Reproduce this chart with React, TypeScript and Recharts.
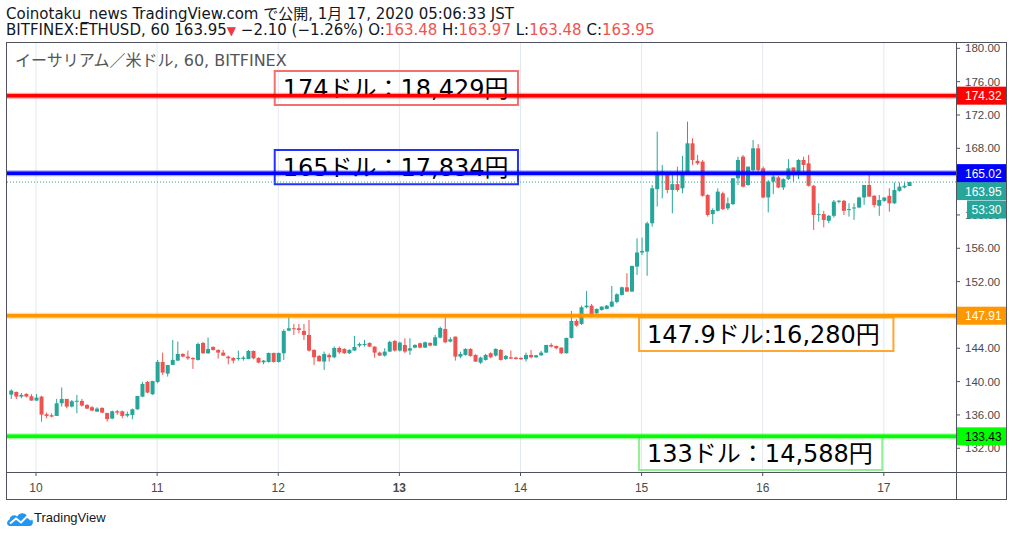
import {
  Bar,
  CartesianGrid,
  ComposedChart,
  ReferenceArea,
  ReferenceLine,
  XAxis,
  YAxis,
} from "recharts";

// BITFINEX:ETHUSD, 60 — hourly candles, hour 0 = 2020-01-10 00:00 (JST)
const FIRST_HOUR = -5;

// one line per day: Jan 9 (19:00–23:00), Jan 10 … Jan 16, Jan 17 (00:00–05:00)
const OPEN = [
  138.44, 138.76, 138.2, 138.52, 138.24,
  137.72, 138.2, 136.08, 135.96, 135.88, 137.4, 137.92, 137.0, 137.6, 137.68, 137.2, 136.92, 136.4, 136.84, 136.24, 135.56, 136.44, 136.44, 135.92, 136.0, 136.68, 138.2, 139.96, 138.48,
  139.96, 142.36, 140.96, 142.0, 142.52, 143.32, 143.0, 142.84, 142.6, 144.64, 143.4, 144.16, 143.8, 143.48, 143.0, 142.84, 142.72, 142.72, 142.72, 143.68, 142.84, 142.32, 142.36, 143.44,
  142.36, 143.4, 146.12, 146.4, 146.4, 146.08, 145.6, 143.8, 143.08, 142.4, 143.2, 142.92, 144.04, 143.92, 143.4, 143.72, 144.32, 144.44, 144.64, 144.2, 143.48, 143.12, 143.6, 144.88,
  143.72, 144.4, 143.72, 144.08, 144.6, 144.08, 144.64, 144.32, 145.28, 146.32, 144.8, 145.4, 143.0, 143.2, 143.92, 143.2, 142.28, 142.6, 143.4, 143.12, 143.8, 142.72, 142.92, 142.88,
  142.84, 142.68, 143.2, 142.92, 143.16, 143.48, 144.4, 144.28, 144.08, 143.4, 145.24, 147.28, 146.92, 148.92, 149.12, 148.2, 148.6, 148.72, 149.0, 149.56, 150.4, 151.32, 150.8, 153.8,
  155.5, 155.6, 159.0, 163.1, 165.0, 165.0, 163.0, 163.7, 163.2, 165.0, 168.6, 166.5, 166.4, 162.4, 160.1, 160.5, 162.6, 160.8, 161.3, 164.4, 167.0, 163.6, 165.4, 168.0,
  165.6, 162.1, 164.0, 164.5, 163.3, 164.3, 165.7, 165.2, 166.6, 166.2, 163.5, 160.1, 160.1, 159.3, 159.9, 161.6, 161.7, 160.6, 160.8, 160.9, 162.1, 163.6, 162.3, 161.1,
  161.7, 162.3, 161.4, 162.9, 163.3, 163.48,
];
const HIGH = [
  139.08, 138.8, 138.64, 138.6, 138.5,
  138.5, 138.3, 136.3, 136.2, 137.92, 139.3, 137.92, 137.8, 138.4, 137.92, 137.3, 137.08, 136.92, 136.92, 136.24, 136.52, 136.6, 136.52, 136.4, 136.76, 138.28, 139.96, 140.08, 140.08,
  142.6, 143.48, 142.0, 145.0, 144.8, 143.4, 143.72, 142.92, 144.68, 144.76, 145.28, 144.24, 143.88, 143.8, 143.12, 142.92, 143.72, 143.08, 143.8, 143.72, 142.92, 142.6, 143.48, 143.48,
  143.48, 146.28, 147.72, 146.92, 146.92, 146.92, 147.4, 143.88, 143.2, 143.6, 143.4, 144.2, 144.2, 144.0, 143.88, 145.48, 144.68, 145.0, 144.72, 144.24, 143.6, 144.0, 144.88, 145.0,
  144.8, 145.2, 145.2, 144.48, 144.68, 144.8, 144.72, 145.6, 146.6, 147.72, 145.32, 145.4, 143.6, 144.0, 144.0, 143.28, 143.0, 143.32, 143.52, 144.0, 143.92, 143.2, 143.72, 143.0,
  142.92, 143.48, 143.8, 143.2, 143.68, 144.4, 144.6, 144.32, 144.12, 145.28, 148.48, 147.48, 149.1, 150.88, 149.32, 148.8, 149.04, 149.2, 151.48, 150.6, 151.4, 153.0, 153.92, 157.2,
  157.28, 159.2, 163.6, 170.0, 166.0, 165.2, 164.8, 165.8, 167.1, 171.2, 169.2, 167.2, 166.6, 162.5, 160.8, 163.2, 162.8, 162.1, 164.4, 167.0, 167.2, 165.8, 169.0, 168.5,
  165.8, 164.2, 164.8, 164.7, 164.4, 166.7, 165.7, 166.7, 167.0, 167.2, 163.6, 161.4, 160.5, 160.0, 161.8, 161.8, 161.8, 161.4, 161.4, 162.2, 163.6, 164.9, 162.4, 162.4,
  162.1, 163.2, 163.9, 163.9, 163.9, 163.97,
];
const LOW = [
  137.92, 137.9, 138.0, 138.1, 137.72,
  137.7, 135.2, 135.6, 135.7, 135.88, 137.0, 136.8, 136.9, 136.2, 137.0, 136.7, 136.44, 136.36, 136.2, 135.2, 135.48, 136.0, 135.6, 135.72, 135.48, 136.6, 138.12, 138.6, 138.4,
  139.8, 140.8, 140.6, 142.0, 142.48, 142.92, 142.6, 141.52, 142.52, 143.32, 143.32, 143.72, 142.76, 143.08, 142.08, 142.2, 142.52, 142.52, 142.68, 142.68, 142.2, 142.08, 142.28, 142.28,
  142.28, 142.6, 146.08, 145.6, 145.8, 145.0, 143.6, 142.0, 142.4, 141.4, 142.4, 142.8, 143.32, 143.32, 143.32, 143.72, 144.12, 144.2, 144.16, 142.88, 143.08, 143.0, 143.56, 143.6,
  143.6, 143.4, 143.2, 144.0, 144.0, 144.04, 144.24, 144.28, 145.2, 144.6, 144.72, 142.52, 142.8, 143.12, 143.0, 142.36, 142.12, 142.52, 142.8, 143.0, 142.52, 142.6, 142.7, 142.64,
  142.6, 142.4, 142.8, 142.84, 143.08, 143.44, 144.1, 143.88, 143.32, 143.36, 145.16, 146.6, 146.8, 148.8, 147.88, 147.8, 148.52, 148.68, 148.92, 149.4, 150.32, 150.8, 150.8, 152.8,
  155.2, 152.7, 158.6, 161.0, 162.0, 162.6, 160.2, 162.8, 162.6, 164.8, 166.0, 166.0, 162.2, 159.8, 158.9, 160.4, 160.6, 160.6, 161.2, 163.6, 163.3, 163.5, 165.2, 165.2,
  162.0, 160.3, 162.5, 163.2, 163.0, 164.2, 164.0, 164.3, 164.8, 163.4, 158.2, 159.2, 158.5, 159.0, 159.7, 161.4, 160.0, 159.8, 159.4, 160.8, 161.2, 162.2, 160.9, 159.9,
  161.6, 160.4, 161.3, 162.8, 163.2, 163.48,
];
const CLOSE = [
  138.92, 138.2, 138.4, 138.2, 137.72,
  138.08, 136.04, 135.88, 135.8, 137.4, 137.92, 137.0, 137.64, 137.7, 137.12, 136.76, 136.52, 136.76, 136.28, 135.5, 136.44, 136.28, 135.88, 136.12, 136.68, 138.28, 139.72, 138.68, 140.08,
  142.36, 141.08, 142.0, 142.6, 143.32, 143.0, 142.8, 142.68, 144.52, 143.4, 143.92, 143.8, 143.48, 143.12, 142.8, 142.52, 142.84, 142.88, 143.68, 142.8, 142.28, 142.52, 143.44, 142.36,
  143.44, 146.08, 146.4, 146.28, 146.2, 145.6, 143.72, 142.92, 142.44, 143.32, 142.92, 144.04, 143.52, 143.4, 143.8, 144.16, 144.52, 144.52, 144.2, 143.48, 143.12, 143.6, 144.76, 143.72,
  144.68, 143.6, 144.0, 144.4, 144.08, 144.72, 144.32, 145.32, 146.44, 144.72, 145.08, 143.0, 143.32, 143.92, 143.08, 142.4, 142.88, 143.2, 142.92, 143.92, 142.6, 143.08, 142.76, 142.72,
  142.68, 143.2, 142.92, 143.16, 143.48, 144.4, 144.2, 144.0, 143.4, 145.24, 147.28, 146.72, 148.92, 149.12, 148.0, 148.72, 149.0, 149.12, 149.6, 150.48, 151.32, 150.8, 153.88, 155.5,
  155.68, 159.0, 163.2, 165.0, 165.2, 163.0, 163.7, 163.0, 165.0, 168.6, 166.6, 166.2, 162.3, 160.0, 160.6, 162.8, 160.7, 161.4, 164.4, 166.6, 163.4, 165.8, 168.0, 165.4,
  162.1, 164.0, 164.6, 163.3, 164.3, 165.6, 165.2, 166.6, 166.0, 163.5, 160.0, 160.1, 159.4, 159.9, 161.6, 161.7, 160.5, 160.7, 160.9, 162.1, 163.6, 162.2, 161.2, 161.8,
  162.1, 161.4, 163.0, 163.4, 163.5, 163.95,
];

const DAY_TICKS = [0, 24, 48, 72, 96, 120, 144, 168];
const DAY_LABELS = ["10", "11", "12", "13", "14", "15", "16", "17"];
const WEEK_START = 72; // 13 (Monday) is drawn bold
const PRICE_TICKS = [132, 136, 140, 144, 148, 152, 156, 160, 164, 168, 172, 176, 180];

// horizontal levels drawn by the author
const LEVELS = [174.32, 165.02, 147.91, 133.43];
const LAST_PRICE = 163.95;
const COUNTDOWN = "53:30";

// text notes
const NOTES = ["174ドル：18,429円", "165ドル：17,834円", "147.9ドル:16,280円", "133ドル：14,588円"];

// layout / style (not data)
const LEVEL_COLORS = ["#ff0000", "#0000ff", "#ff9800", "#00ff00"];
const LEVEL_TEXT = ["#ffffff", "#ffffff", "#ffffff", "#000000"];
const NOTE_X = [[47.3, 95.5], [47.3, 95.5], [119.5, 169.9], [119.5, 167.7]];
const NOTE_Y = [[173.2, 177.28], [163.7, 167.8], [143.67, 147.72], [129.4, 133.47]];
const NOTE_STROKE = ["#f4706f", "#2430ff", "#ffa733", "#93ef93"];

const UP = "#26a69a";
const DOWN = "#ef5350";
const GRID = "#e1e9f0";
const FRAME = "#50535e";
const AXIS_TEXT = "#4a4a4a";
const FONT = '"DejaVu Sans", "Noto Sans CJK JP", sans-serif';
const AXIS_FONT = '"Liberation Sans", Arial, sans-serif';
const NOTE_FONT = '"DejaVu Sans", "Noto Sans CJK JP", sans-serif';

const rows = OPEN.map((o, i) => ({
  t: FIRST_HOUR + i,
  open: o,
  high: HIGH[i],
  low: LOW[i],
  close: CLOSE[i],
  range: [LOW[i], HIGH[i]],
}));

function Candle(props: any) {
  const { x, y, width, height, payload } = props;
  const top = Math.min(y, y + height);
  const h = Math.abs(height);
  const span = payload.high - payload.low || 1;
  const toY = (v: number) => top + ((payload.high - v) / span) * h;
  const color = payload.close >= payload.open ? UP : DOWN;
  const bodyTop = toY(Math.max(payload.open, payload.close));
  const bodyBottom = toY(Math.min(payload.open, payload.close));
  const cx = x + width / 2;
  return (
    <g>
      <line x1={cx} x2={cx} y1={top} y2={top + h} stroke={color} strokeWidth={1} />
      <rect x={x} y={bodyTop} width={width} height={Math.max(1, bodyBottom - bodyTop)} fill={color} />
    </g>
  );
}

// price-scale tick drawn as a reference-line label so the level tags can sit on top of it
function PriceTick({ viewBox, value }: any) {
  if (!viewBox) return null;
  const x = viewBox.x + viewBox.width;
  return (
    <g>
      <line x1={x} x2={x + 4} y1={viewBox.y} y2={viewBox.y} stroke={FRAME} />
      <text x={x + 9} y={viewBox.y + 4} fill={AXIS_TEXT} fontFamily={AXIS_FONT} fontSize={11.5}>
        {value.toFixed(2)}
      </text>
    </g>
  );
}

function PriceTag({ viewBox, value, bg, fg, dy = 0, countdown }: any) {
  if (!viewBox) return null;
  const x = viewBox.x + viewBox.width;
  const y = viewBox.y + dy;
  return (
    <g fontFamily={AXIS_FONT} fontSize={12}>
      <rect x={x} y={y - 9} width={50} height={18} fill={bg} />
      <text x={x + 9} y={y + 4.5} fill={fg}>
        {value.toFixed(2)}
      </text>
      {countdown && (
        <>
          <rect x={x + 11} y={y + 9.5} width={39} height={18} fill={bg} />
          <text x={x + 30.5} y={y + 23} fill={fg} textAnchor="middle">
            {countdown}
          </text>
        </>
      )}
    </g>
  );
}

function NoteText({ viewBox, text }: any) {
  if (!viewBox) return null;
  return (
    <text
      x={viewBox.x + 8}
      y={viewBox.y + viewBox.height / 2 + 9}
      fontFamily={NOTE_FONT}
      fontSize={24}
      fill="#000"
    >
      {text}
    </text>
  );
}

function DayTick({ x, y, payload }: any) {
  const i = DAY_TICKS.indexOf(payload.value);
  return (
    <text
      x={x}
      y={y + 14}
      textAnchor="middle"
      fontFamily={AXIS_FONT}
      fontSize={12}
      fill={AXIS_TEXT}
      fontWeight={payload.value === WEEK_START ? 700 : 400}
    >
      {DAY_LABELS[i]}
    </text>
  );
}

const line = (s: React.CSSProperties): React.CSSProperties => ({
  position: "absolute",
  background: FRAME,
  pointerEvents: "none",
  ...s,
});

export default function App() {
  return (
    <div
      style={{
        position: "absolute",
        left: 0,
        top: 0,
        width: 1014,
        height: 537,
        background: "#fff",
        fontFamily: FONT,
        color: "#131722",
        overflow: "hidden",
      }}
    >
      <div style={{ position: "absolute", left: 6, top: 6, fontSize: 15, lineHeight: "17px", whiteSpace: "nowrap" }}>
        Coinotaku_news TradingView.com で公開, 1月 17, 2020 05:06:33 JST
      </div>
      <div style={{ position: "absolute", left: 6, top: 22, fontSize: 15, lineHeight: "17px", whiteSpace: "nowrap" }}>
        BITFINEX:ETHUSD, 60 163.95<span style={{ color: "#f23645", fontSize: 12 }}>▼</span> −2.10 (−1.26%) O:
        <span style={{ color: DOWN }}>163.48</span> H:<span style={{ color: DOWN }}>163.97</span> L:
        <span style={{ color: DOWN }}>163.48</span> C:<span style={{ color: DOWN }}>163.95</span>
      </div>

      <div style={{ position: "absolute", left: 0, top: 0 }}>
        <ComposedChart width={1014} height={537} data={rows} margin={{ top: 43, right: 8, bottom: 37, left: 7 }}>
          <CartesianGrid stroke={GRID} horizontalValues={PRICE_TICKS} verticalValues={DAY_TICKS} />
          <XAxis
            dataKey="t"
            type="number"
            domain={[-5.75, 182.3]}
            allowDataOverflow
            ticks={DAY_TICKS}
            height={28}
            axisLine={false}
            tickLine={{ stroke: FRAME }}
            tickSize={4}
            tick={<DayTick />}
          />
          <YAxis
            orientation="right"
            domain={[129.15, 180.64]}
            allowDataOverflow
            ticks={PRICE_TICKS}
            width={50}
            axisLine={false}
            tickLine={false}
            tick={false}
          />
          <Bar dataKey="range" barSize={4} shape={<Candle />} isAnimationActive={false} />
          {PRICE_TICKS.map((v) => (
            <ReferenceLine
              key={`tick-${v}`}
              y={v}
              stroke="none"
              label={(lp: any) => <PriceTick viewBox={lp.viewBox} value={v} />}
            />
          ))}
          <ReferenceLine
            y={LAST_PRICE}
            stroke={UP}
            strokeWidth={1}
            strokeDasharray="1 2"
            label={(p: any) => <PriceTag viewBox={p.viewBox} value={LAST_PRICE} bg={UP} fg="#fff" dy={9} countdown={COUNTDOWN} />}
          />
          {LEVELS.map((p, i) => (
            <ReferenceLine key={`halo-${i}`} y={p} stroke={LEVEL_COLORS[i]} strokeOpacity={0.35} strokeWidth={6} />
          ))}
          {LEVELS.map((p, i) => (
            <ReferenceLine
              key={`level-${i}`}
              y={p}
              stroke={LEVEL_COLORS[i]}
              strokeWidth={3.5}
              label={(lp: any) => <PriceTag viewBox={lp.viewBox} value={p} bg={LEVEL_COLORS[i]} fg={LEVEL_TEXT[i]} />}
            />
          ))}
          {NOTES.map((text, i) => (
            <ReferenceArea
              key={`note-${i}`}
              x1={NOTE_X[i][0]}
              x2={NOTE_X[i][1]}
              y1={NOTE_Y[i][0]}
              y2={NOTE_Y[i][1]}
              fill="none"
              stroke={NOTE_STROKE[i]}
              strokeWidth={2}
              label={(lp: any) => <NoteText viewBox={lp.viewBox} text={text} />}
            />
          ))}
        </ComposedChart>
      </div>

      {/* pane frame */}
      <div style={line({ left: 6, top: 42, width: 1001, height: 1 })} />
      <div style={line({ left: 6, top: 499, width: 1001, height: 1 })} />
      <div style={line({ left: 6, top: 42, width: 1, height: 458 })} />
      <div style={line({ left: 1006, top: 42, width: 1, height: 458 })} />
      <div style={line({ left: 956, top: 42, width: 1, height: 458 })} />
      <div style={line({ left: 6, top: 472, width: 1001, height: 1 })} />

      <div style={{ position: "absolute", left: 15, top: 52, fontSize: 16, lineHeight: "18px", color: "#555", whiteSpace: "nowrap" }}>
        イーサリアム／米ドル, 60, BITFINEX
      </div>

      <svg style={{ position: "absolute", left: 6, top: 510 }} width={28} height={17} viewBox="0 0 28 17">
        <path d="M4 16C0.5 16 0 11 3.5 9.8C3.8 5.5 8.5 4 11.2 6.5C13 2 20.5 1.8 21.6 7.6C25.5 7.6 28 11 26.5 14C26 15.3 25 16 23.5 16Z" fill="#2196f3" />
        <polyline points="4,13.5 10,8.5 15,12.5 21,6.5 25.5,10" stroke="#fff" strokeWidth={2} fill="none" />
      </svg>
      <div style={{ position: "absolute", left: 34, top: 510, fontSize: 13, fontFamily: AXIS_FONT, color: "#131722" }}>
        TradingView
      </div>
    </div>
  );
}
